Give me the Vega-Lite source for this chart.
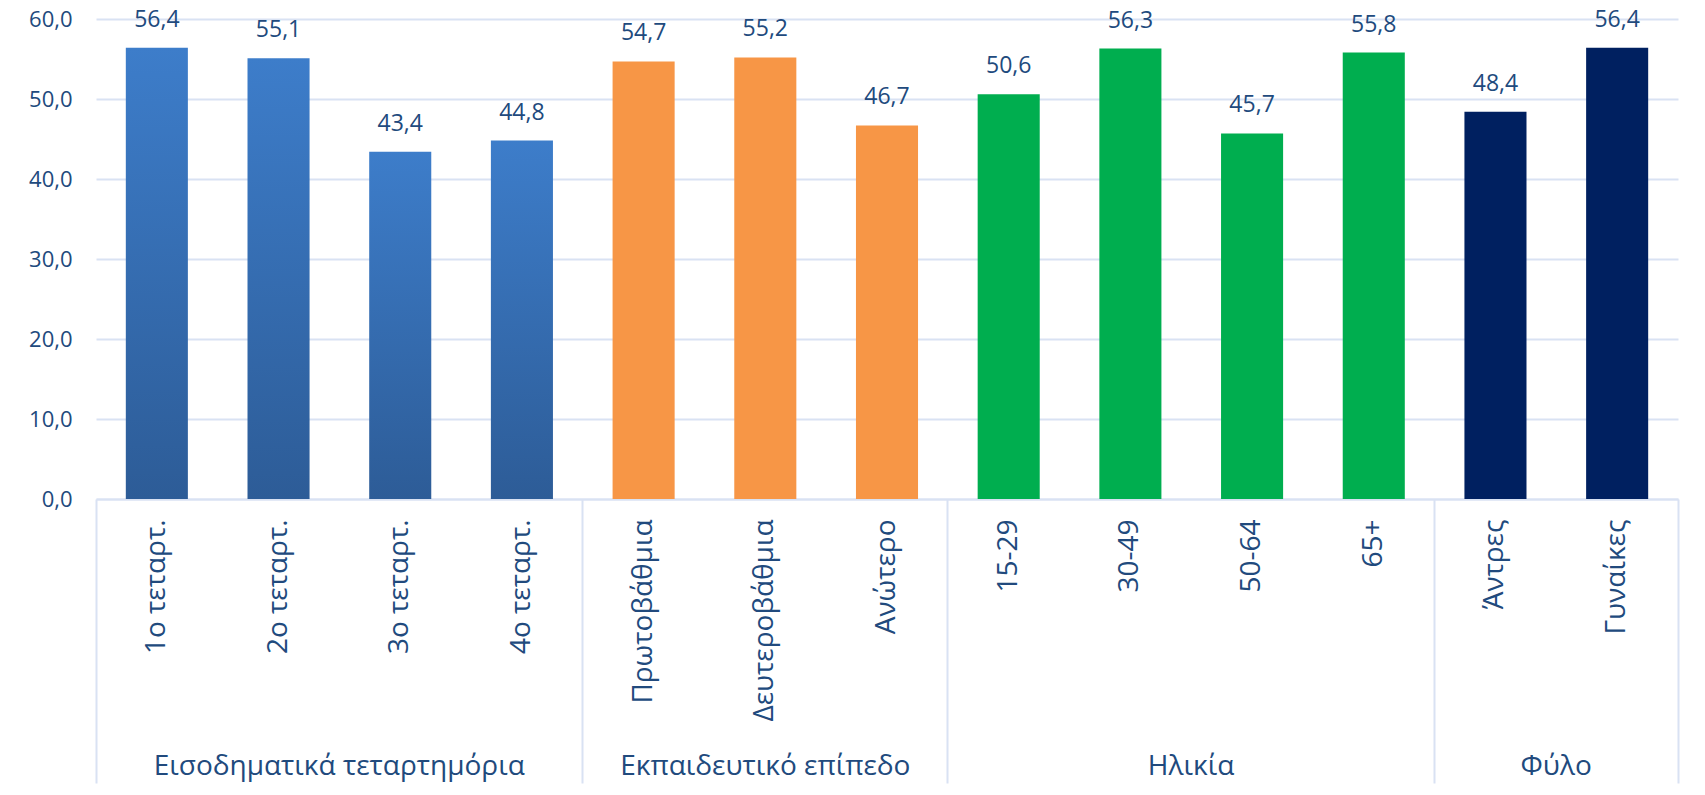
{
  "$schema": "https://vega.github.io/schema/vega-lite/v6.json",
  "width": 1582,
  "height": 480,
  "padding": {"left": 28, "top": 8, "right": 5, "bottom": 5},
  "background": "white",
  "data": {
    "values": [
      {"group": "Εισοδηματικά τεταρτημόρια", "cat": "1ο τεταρτ.", "value": 56.4},
      {"group": "Εισοδηματικά τεταρτημόρια", "cat": "2ο τεταρτ.", "value": 55.1},
      {"group": "Εισοδηματικά τεταρτημόρια", "cat": "3ο τεταρτ.", "value": 43.4},
      {"group": "Εισοδηματικά τεταρτημόρια", "cat": "4ο τεταρτ.", "value": 44.8},
      {"group": "Εκπαιδευτικό επίπεδο", "cat": "Πρωτοβάθμια", "value": 54.7},
      {"group": "Εκπαιδευτικό επίπεδο", "cat": "Δευτεροβάθμια", "value": 55.2},
      {"group": "Εκπαιδευτικό επίπεδο", "cat": "Ανώτερο", "value": 46.7},
      {"group": "Ηλικία", "cat": "15-29", "value": 50.6},
      {"group": "Ηλικία", "cat": "30-49", "value": 56.3},
      {"group": "Ηλικία", "cat": "50-64", "value": 45.7},
      {"group": "Ηλικία", "cat": "65+", "value": 55.8},
      {"group": "Φύλο", "cat": "Άντρες", "value": 48.4},
      {"group": "Φύλο", "cat": "Γυναίκες", "value": 56.4}
    ]
  },
  "resolve": {"axis": {"x": "independent"}},
  "layer": [
    {
      "transform": [{"filter": "datum.group === 'Εισοδηματικά τεταρτημόρια'"}],
      "mark": {
        "type": "bar",
        "width": {"band": 0.51},
        "color": {
          "gradient": "linear", "x1": 0, "y1": 0, "x2": 0, "y2": 1,
          "stops": [{"offset": 0, "color": "#3d7dca"}, {"offset": 1, "color": "#2d5c97"}]
        }
      },
      "encoding": {
        "x": {
          "field": "cat", "type": "nominal", "sort": null,
          "scale": {"domain": ["1ο τεταρτ.", "2ο τεταρτ.", "3ο τεταρτ.", "4ο τεταρτ.", "Πρωτοβάθμια", "Δευτεροβάθμια", "Ανώτερο", "15-29", "30-49", "50-64", "65+", "Άντρες", "Γυναίκες"], "paddingInner": 0, "paddingOuter": 0},
          "axis": {
            "orient": "bottom", "title": null, "labelAngle": 270, "labelAlign": "right", "labelBaseline": "middle",
            "labelPadding": 20, "labelFontSize": 28, "labelLimit": 500, "ticks": false,
            "domain": true, "domainColor": "#d9e2f3", "domainWidth": 2, "grid": false
          }
        },
        "y": {"field": "value", "type": "quantitative", "title": null, "scale": {"domain": [0, 60]}}
      }
    },
    {
      "transform": [{"filter": "datum.group !== 'Εισοδηματικά τεταρτημόρια'"}],
      "mark": {"type": "bar", "width": {"band": 0.51}},
      "encoding": {
        "x": {
          "field": "cat", "type": "nominal", "sort": null,
          "scale": {"domain": ["1ο τεταρτ.", "2ο τεταρτ.", "3ο τεταρτ.", "4ο τεταρτ.", "Πρωτοβάθμια", "Δευτεροβάθμια", "Ανώτερο", "15-29", "30-49", "50-64", "65+", "Άντρες", "Γυναίκες"], "paddingInner": 0, "paddingOuter": 0},
          "axis": {
            "orient": "bottom", "title": null, "bandPosition": 0, "domain": false, "grid": false,
            "ticks": true, "tickSize": 284, "tickWidth": 2,
            "tickColor": {"condition": {"test": "indexof(['1ο τεταρτ.','Πρωτοβάθμια','15-29','Άντρες'], datum.value) >= 0", "value": "#d9e2f3"}, "value": "rgba(0,0,0,0)"},
            "labelExpr": "datum.value === '3ο τεταρτ.' ? 'Εισοδηματικά τεταρτημόρια' : datum.value === 'Δευτεροβάθμια' ? 'Εκπαιδευτικό επίπεδο' : datum.value === '50-64' ? 'Ηλικία' : datum.value === 'Γυναίκες' ? 'Φύλο' : ''",
            "labelOffset": {"condition": {"test": "datum.value === 'Δευτεροβάθμια'", "value": 0}, "value": -61},
            "labelAngle": 0, "labelAlign": "center", "labelBaseline": "middle",
            "labelPadding": -17, "labelFontSize": 28, "labelLimit": 600
          }
        },
        "y": {"field": "value", "type": "quantitative", "title": null, "scale": {"domain": [0, 60]}},
        "color": {
          "field": "group", "type": "nominal", "legend": null,
          "scale": {"domain": ["Εκπαιδευτικό επίπεδο", "Ηλικία", "Φύλο"], "range": ["#f79646", "#00ae4f", "#002060"]}
        }
      }
    },
    {
      "mark": {"type": "text", "dy": -28, "baseline": "middle", "align": "center", "fontSize": 23, "font": "Open Sans", "color": "#214a7d"},
      "encoding": {
        "x": {
          "field": "cat", "type": "nominal", "sort": null,
          "scale": {"domain": ["1ο τεταρτ.", "2ο τεταρτ.", "3ο τεταρτ.", "4ο τεταρτ.", "Πρωτοβάθμια", "Δευτεροβάθμια", "Ανώτερο", "15-29", "30-49", "50-64", "65+", "Άντρες", "Γυναίκες"], "paddingInner": 0, "paddingOuter": 0},
          "axis": {
            "orient": "bottom", "title": null, "bandPosition": 1, "labels": false, "domain": false, "grid": false,
            "ticks": true, "tickSize": 284, "tickWidth": 2,
            "tickColor": {"condition": {"test": "datum.value === 'Γυναίκες'", "value": "#d9e2f3"}, "value": "rgba(0,0,0,0)"}
          }
        },
        "y": {"field": "value", "type": "quantitative", "title": null, "scale": {"domain": [0, 60]}},
        "text": {"field": "value", "type": "quantitative", "format": ".1f"}
      }
    }
  ],
  "config": {
    "font": "Open Sans",
    "view": {"stroke": null},
    "locale": {"number": {"decimal": ",", "thousands": ".", "grouping": [3], "currency": ["", " €"]}},
    "axis": {"labelFont": "Open Sans", "labelColor": "#214a7d"},
    "axisY": {
      "domain": false, "ticks": false, "tickCount": 6, "format": ".1f",
      "gridColor": "#d9e2f3", "gridWidth": 2, "labelFontSize": 22, "labelPadding": 24
    }
  }
}
